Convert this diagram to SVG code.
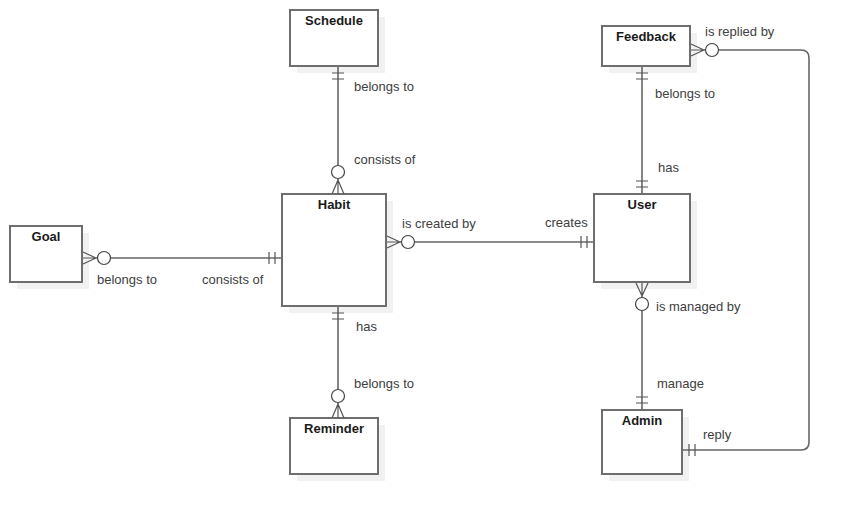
<svg xmlns="http://www.w3.org/2000/svg" width="851" height="514" viewBox="0 0 851 514">
<style>
.sh{fill:#f1f1f1;stroke:none}
.box{fill:#ffffff;stroke:#6e6e6e;stroke-width:2}
.t{font-family:"Liberation Sans",Arial,sans-serif;font-size:13px;font-weight:bold;fill:#1a1a1a;text-anchor:middle}
.l{font-family:"Liberation Sans",Arial,sans-serif;font-size:13px;fill:#404040}
.ln{fill:none;stroke:#666666;stroke-width:1.6}
.m{fill:none;stroke:#555555;stroke-width:1.2}
.c{fill:#ffffff;stroke:#444444;stroke-width:1.2}
</style>
<rect width="851" height="514" fill="#ffffff"/>
<g id="schedule">
  <rect class="sh" x="297" y="17" width="88" height="56"/>
  <rect class="box" x="290" y="10" width="88" height="56"/>
  <text class="t" x="334" y="25">Schedule</text>
</g>
<g id="habit">
  <rect class="sh" x="289" y="201" width="104" height="112"/>
  <rect class="box" x="282" y="194" width="104" height="112"/>
  <text class="t" x="334" y="209">Habit</text>
</g>
<g id="goal">
  <rect class="sh" x="17" y="233" width="72" height="56"/>
  <rect class="box" x="10" y="226" width="72" height="56"/>
  <text class="t" x="46" y="241">Goal</text>
</g>
<g id="reminder">
  <rect class="sh" x="297" y="425" width="88" height="56"/>
  <rect class="box" x="290" y="418" width="88" height="56"/>
  <text class="t" x="334" y="433">Reminder</text>
</g>
<g id="user">
  <rect class="sh" x="601" y="201" width="96" height="88"/>
  <rect class="box" x="594" y="194" width="96" height="88"/>
  <text class="t" x="642" y="209">User</text>
</g>
<g id="feedback">
  <rect class="sh" x="609" y="33" width="88" height="40"/>
  <rect class="box" x="602" y="26" width="88" height="40"/>
  <text class="t" x="646" y="41">Feedback</text>
</g>
<g id="admin">
  <rect class="sh" x="609" y="417" width="80" height="64"/>
  <rect class="box" x="602" y="410" width="80" height="64"/>
  <text class="t" x="642" y="425">Admin</text>
</g>
<g id="connectors">
  <!-- Schedule - Habit -->
  <path class="ln" d="M338,67 V180"/>
  <path class="m" d="M332,73 H344 M332,79 H344 M338,180 L332,194 M338,180 V194 M338,180 L344,194"/>
  <circle class="c" cx="338" cy="172" r="6.5"/>
  <!-- Habit - Reminder -->
  <path class="ln" d="M338,307 V404"/>
  <path class="m" d="M332,313 H344 M332,319 H344 M338,404 L332,418 M338,404 V418 M338,404 L344,418"/>
  <circle class="c" cx="338" cy="396" r="6.5"/>
  <!-- Goal - Habit -->
  <path class="ln" d="M96,258 H281"/>
  <path class="m" d="M269,252 V264 M275,252 V264 M96,258 L83,252 M96,258 H83 M96,258 L83,264"/>
  <circle class="c" cx="104" cy="258" r="6.5"/>
  <!-- Habit - User -->
  <path class="ln" d="M400,242 H593"/>
  <path class="m" d="M581,236 V248 M587,236 V248 M400,242 L387,236 M400,242 H387 M400,242 L387,248"/>
  <circle class="c" cx="408" cy="242" r="6.5"/>
  <!-- Feedback - User -->
  <path class="ln" d="M642,67 V193"/>
  <path class="m" d="M636,73 H648 M636,79 H648 M636,181 H648 M636,187 H648"/>
  <!-- User - Admin -->
  <path class="ln" d="M642,296 V409"/>
  <path class="m" d="M636,397 H648 M636,403 H648 M642,296 L636,283 M642,296 V283 M642,296 L648,283"/>
  <circle class="c" cx="642" cy="304" r="6.5"/>
  <!-- Feedback - Admin -->
  <path class="ln" d="M704,50 H801 Q809,50 809,58 V442 Q809,450 801,450 H683"/>
  <path class="m" d="M689,444 V456 M695,444 V456 M704,50 L691,44 M704,50 H691 M704,50 L691,56"/>
  <circle class="c" cx="712" cy="50" r="6.5"/>
</g>
<g id="labels">
  <text class="l" x="354" y="91">belongs to</text>
  <text class="l" x="354" y="164">consists of</text>
  <text class="l" x="402" y="228">is created by</text>
  <text class="l" x="545" y="227">creates</text>
  <text class="l" x="97" y="284">belongs to</text>
  <text class="l" x="202" y="284">consists of</text>
  <text class="l" x="356" y="331">has</text>
  <text class="l" x="354" y="388">belongs to</text>
  <text class="l" x="705" y="36">is replied by</text>
  <text class="l" x="655" y="98">belongs to</text>
  <text class="l" x="658" y="172">has</text>
  <text class="l" x="656" y="311">is managed by</text>
  <text class="l" x="657" y="388">manage</text>
  <text class="l" x="703" y="439">reply</text>
</g>
</svg>
